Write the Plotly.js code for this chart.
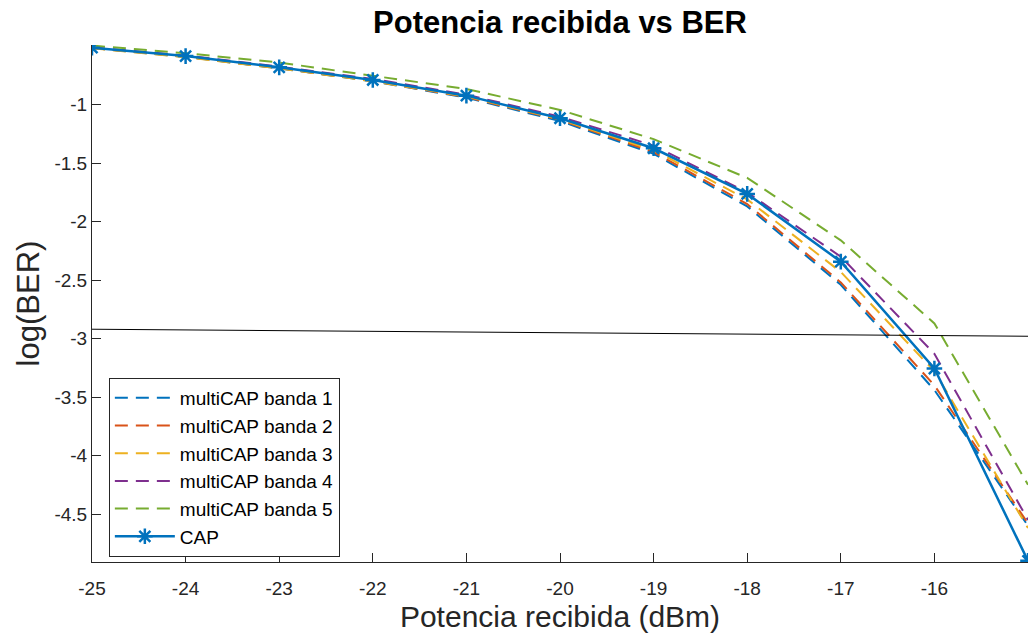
<!DOCTYPE html>
<html>
<head>
<meta charset="utf-8">
<script src="https://cdn.plot.ly/plotly-3.0.1.min.js"></script>
<style>html,body{margin:0;padding:0;background:#fff;}#chart{width:1028px;height:639px;}</style>
</head>
<body>
<div id="chart"></div>
<script>
const potencia = [-25, -24, -23, -22, -21, -20, -19, -18, -17, -16, -15];
const banda1 = [-0.515, -0.592, -0.690, -0.800, -0.940, -1.140, -1.420, -1.870, -2.540, -3.440, -4.600];
const banda2 = [-0.515, -0.590, -0.688, -0.798, -0.935, -1.130, -1.405, -1.850, -2.520, -3.400, -4.580];
const banda3 = [-0.518, -0.595, -0.690, -0.800, -0.930, -1.125, -1.390, -1.810, -2.430, -3.280, -4.620];
const banda4 = [-0.510, -0.580, -0.675, -0.780, -0.915, -1.103, -1.350, -1.750, -2.300, -3.130, -4.550];
const banda5 = [-0.495, -0.560, -0.640, -0.755, -0.866, -1.045, -1.295, -1.626, -2.160, -2.870, -4.250];
const cap = [-0.513, -0.585, -0.681, -0.789, -0.923, -1.116, -1.373, -1.763, -2.342, -3.256, -4.900];
const umbralX = [-25, -15];
const umbralY = [-2.92, -2.98];
const xTicks = [-25, -24, -23, -22, -21, -20, -19, -18, -17, -16];
const yTicks = [-4.5, -4, -3.5, -3, -2.5, -2, -1.5, -1];
const yTickText = ['-4.5', '-4', '-3.5', '-3', '-2.5', '-2', '-1.5', '-1'];
const names = ['multiCAP banda 1', 'multiCAP banda 2', 'multiCAP banda 3', 'multiCAP banda 4', 'multiCAP banda 5', 'CAP'];
const colors = ['#0072BD', '#D95319', '#EDB120', '#7E2F8E', '#77AC30'];

const FONT = '"Liberation Sans", Arial, Helvetica, sans-serif';
const series = [banda1, banda2, banda3, banda4, banda5];
const traces = series.map((s, i) => ({
  x: potencia, y: s, type: 'scatter', mode: 'lines', name: names[i],
  line: {color: colors[i], width: 2, dash: '13px,8px'}
}));
traces.push({
  x: potencia, y: cap, type: 'scatter', mode: 'lines+markers', name: names[5],
  line: {color: '#0072BD', width: 2.5},
  marker: {symbol: 'asterisk-open', size: 13, color: '#0072BD', line: {color: '#0072BD', width: 2.5}}
});
traces.push({
  x: umbralX, y: umbralY, type: 'scatter', mode: 'lines', showlegend: false,
  line: {color: '#000000', width: 1}, hoverinfo: 'skip'
});

const layout = {
  width: 1028, height: 639,
  margin: {l: 92, r: 0, t: 45, b: 77, pad: 0},
  paper_bgcolor: '#ffffff', plot_bgcolor: '#ffffff',
  font: {family: FONT, color: '#262626'},
  title: {text: '<b>Potencia recibida vs BER</b>', font: {family: FONT, size: 31, color: '#000000'},
          x: 0.5, xref: 'paper', xanchor: 'center', y: 1 - 22/639, yref: 'container', yanchor: 'middle'},
  xaxis: {
    range: [-25, -15], tickvals: xTicks, ticktext: xTicks.map(String),
    ticks: 'inside', ticklen: 9, tickwidth: 1, tickcolor: '#262626',
    showline: true, linecolor: '#262626', linewidth: 1, mirror: false,
    showgrid: false, zeroline: false, ticklabelstandoff: 9,
    tickfont: {family: FONT, size: 19, color: '#262626'},
    title: {text: 'Potencia recibida (dBm)', font: {family: FONT, size: 30, color: '#262626'}, standoff: 8}
  },
  yaxis: {
    range: [-4.91, -0.49], tickvals: yTicks, ticktext: yTickText,
    ticks: 'inside', ticklen: 9, tickwidth: 1, tickcolor: '#262626',
    showline: true, linecolor: '#262626', linewidth: 1, mirror: false,
    showgrid: false, zeroline: false,
    tickfont: {family: FONT, size: 19, color: '#262626'},
    title: {text: 'log(BER)', font: {family: FONT, size: 31, color: '#262626'}, standoff: 5}
  },
  legend: {
    x: 0.018, y: 0.356, xanchor: 'left', yanchor: 'top',
    bgcolor: '#ffffff', bordercolor: '#262626', borderwidth: 1,
    font: {family: FONT, size: 19, color: '#000000'},
    itemwidth: 60, tracegroupgap: 0
  },
  showlegend: true
};
Plotly.newPlot('chart', traces, layout, {displayModeBar: false, staticPlot: true});
</script>
</body>
</html>
